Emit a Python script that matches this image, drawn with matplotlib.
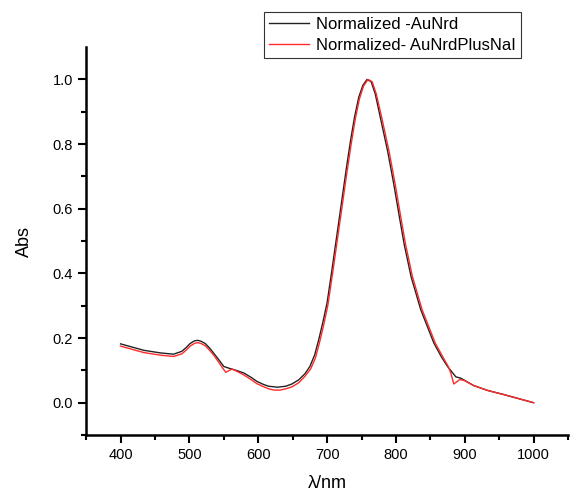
import matplotlib.pyplot as plt
import numpy as np

# --- Data ---
wl_black = [400, 434, 458, 477, 489, 495, 501, 507, 512, 517, 523, 529, 535, 543,
            550, 557, 568, 579, 590, 598, 607, 615, 628, 640, 649, 659, 668, 675,
            682, 688, 694, 700, 707, 714, 721, 728, 734, 740, 746, 752, 758, 764,
            770, 778, 788, 797, 805, 812, 822, 836, 855, 866, 875, 881, 887, 894,
            913, 933, 957, 981, 1000]
abs_black = [0.182, 0.162, 0.154, 0.150, 0.159, 0.170, 0.183, 0.191, 0.193, 0.190,
             0.183, 0.170, 0.154, 0.132, 0.112, 0.107, 0.100, 0.092, 0.078, 0.066,
             0.057, 0.051, 0.048, 0.051, 0.058, 0.071, 0.090, 0.112, 0.148, 0.196,
             0.250, 0.309, 0.410, 0.515, 0.620, 0.725, 0.810, 0.885, 0.945, 0.982,
             1.000, 0.993, 0.955, 0.876, 0.778, 0.675, 0.575, 0.490, 0.390, 0.288,
             0.185, 0.142, 0.112, 0.096, 0.080, 0.076, 0.053, 0.038, 0.025, 0.011,
             0.000]

wl_red = [400, 434, 458, 477, 489, 495, 501, 507, 512, 517, 523, 529, 535, 543,
          548, 553, 558, 562, 570, 579, 590, 598, 607, 615, 623, 632, 640, 649,
          659, 668, 676, 683, 689, 695, 701, 708, 715, 722, 729, 735, 741, 747,
          753, 759.5, 765.5, 771.5, 780, 790, 799, 807, 814, 824, 838, 857, 868,
          876, 880, 884, 888, 893, 900, 913, 933, 957, 981, 1000]
abs_red = [0.175, 0.155, 0.147, 0.143, 0.151, 0.162, 0.175, 0.183, 0.186, 0.183,
           0.176, 0.163, 0.148, 0.124, 0.108, 0.094, 0.100, 0.104, 0.096, 0.086,
           0.071, 0.059, 0.050, 0.043, 0.039, 0.039, 0.043, 0.049, 0.062, 0.082,
           0.104, 0.138, 0.186, 0.240, 0.300, 0.400, 0.505, 0.610, 0.715, 0.800,
           0.878, 0.940, 0.980, 1.000, 0.993, 0.955, 0.876, 0.778, 0.675, 0.575,
           0.490, 0.390, 0.288, 0.185, 0.142, 0.112, 0.090, 0.058, 0.064, 0.072,
           0.068, 0.053, 0.038, 0.025, 0.011, 0.000]

labels = ["Normalized -AuNrd", "Normalized- AuNrdPlusNaI"]

plt.rcParams['font.family'] = ['Liberation Sans', 'DejaVu Sans']

# --- Plot ---
fig = plt.figure(figsize=(5.82, 4.91), dpi=100)
ax = fig.add_axes([0.148, 0.114, 0.828, 0.790])

ax.plot(wl_black, abs_black, color="#222222", linewidth=1.0, label=labels[0])
ax.plot(wl_red, abs_red, color="#ff2a2a", linewidth=1.0, label=labels[1])

ax.set_xlim(350, 1050)
ax.set_ylim(-0.1, 1.1)
ax.set_xticks([400, 500, 600, 700, 800, 900, 1000])
ax.set_xticks(np.arange(350, 1051, 100), minor=True)
ax.set_yticks([0.0, 0.2, 0.4, 0.6, 0.8, 1.0])
ax.set_yticks([-0.1, 0.1, 0.3, 0.5, 0.7, 0.9], minor=True)
ax.tick_params(which="major", length=6, width=1.5, labelsize=10.5, direction="out")
ax.tick_params(which="minor", length=3.5, width=1.5, direction="out")

for side in ("top", "right"):
    ax.spines[side].set_visible(False)
for side in ("left", "bottom"):
    ax.spines[side].set_linewidth(1.8)

ax.set_xlabel("λ/nm", fontsize=13, labelpad=9)
ax.set_ylabel("Abs", fontsize=13, labelpad=14)

leg = fig.legend(loc="upper left", bbox_to_anchor=(264 / 582, 1 - 12 / 491),
                 fontsize=12, frameon=True, fancybox=False, edgecolor="black",
                 handlelength=2.4, borderpad=0.3, labelspacing=0.35,
                 handletextpad=0.45, borderaxespad=0)
leg.get_frame().set_linewidth(0.8)

plt.savefig("out.png", dpi=100)
plt.close()
